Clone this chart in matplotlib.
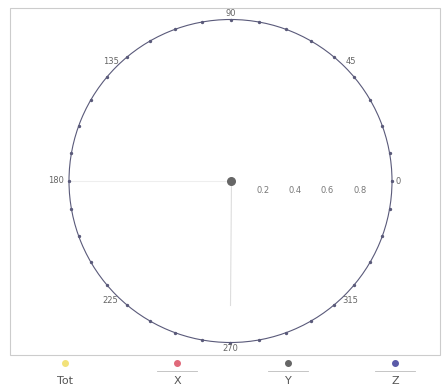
import numpy as np
import matplotlib
matplotlib.use("Agg")
import matplotlib.pyplot as plt
from matplotlib.lines import Line2D

# series (angle in degrees, magnitude)
series_names = ["Tot", "X", "Y", "Z"]
series_colors = ["#f2e27a", "#e0697a", "#666666", "#5a5aa8"]
y_theta = [0.0]
y_r = [0.0]
trace_theta = [270.0, 270.0]
trace_r = [0.0, 0.77]

angle_labels = [0, 45, 90, 135, 180, 225, 270, 315]
radial_ticks = [0.2, 0.4, 0.6, 0.8]
dot_angles = np.arange(0, 360, 10)

fig = plt.figure(figsize=(4.43, 3.92), dpi=100)
fig.patch.set_facecolor("white")

cx, cy, rad = 230.5, 181.0, 161.5
ax = fig.add_axes([(cx - rad) / 443, (392 - cy - rad) / 392,
                   2 * rad / 443, 2 * rad / 392], projection="polar")
ax.set_ylim(0, 1)
ax.set_xticks([])
ax.set_yticks([])
ax.grid(False)
ax.spines["polar"].set_color("#5a5a7a")
ax.spines["polar"].set_linewidth(0.8)

# small dots around the rim
ax.scatter(np.deg2rad(dot_angles), np.ones(len(dot_angles)), s=2,
           color="#5a5a7a", zorder=3, clip_on=False)

# faint reference lines
ax.plot(np.deg2rad([180, 180]), [0, 1], color="#eeeeee", lw=0.8, zorder=1)
ax.plot(np.deg2rad(trace_theta), trace_r, color="#dddddd", lw=0.8, zorder=1)

# data point
ax.scatter(np.deg2rad(y_theta), y_r, s=30, color=series_colors[2], zorder=4)

for a in angle_labels:
    if a == 180:
        r = 1.08
    elif a % 90:
        r = 1.05
    else:
        r = 1.035
    ax.text(np.deg2rad(a), r, str(a), ha="center", va="center",
            fontsize=6, color="#666666", clip_on=False)
for rt in radial_ticks:
    ax.annotate(f"{rt:.1f}", xy=(0, rt), xytext=(0, -7),
                textcoords="offset points", ha="center", va="center",
                fontsize=6, color="#777777")

# outer frame
frame = plt.Rectangle((10 / 443, 1 - 355 / 392), 430 / 443, 347 / 392,
                      transform=fig.transFigure, fill=False,
                      edgecolor="#cccccc", lw=0.8)
fig.patches.append(frame)

# legend row
leg_x = [65, 177, 288, 395]
for name, color, x in zip(series_names, series_colors, leg_x):
    fx = x / 443
    fig.lines.append(Line2D([fx], [1 - 363 / 392], marker="o", markersize=4,
                            color=color, transform=fig.transFigure))
    if name != "Tot":
        fig.lines.append(Line2D([fx - 0.045, fx + 0.045], [1 - 371 / 392] * 2,
                                color="#bbbbbb", lw=0.6,
                                transform=fig.transFigure))
    fig.text(fx, 1 - 381 / 392, name, ha="center", va="center",
             fontsize=8, color="#555555")

fig.savefig("out.png", dpi=100)
